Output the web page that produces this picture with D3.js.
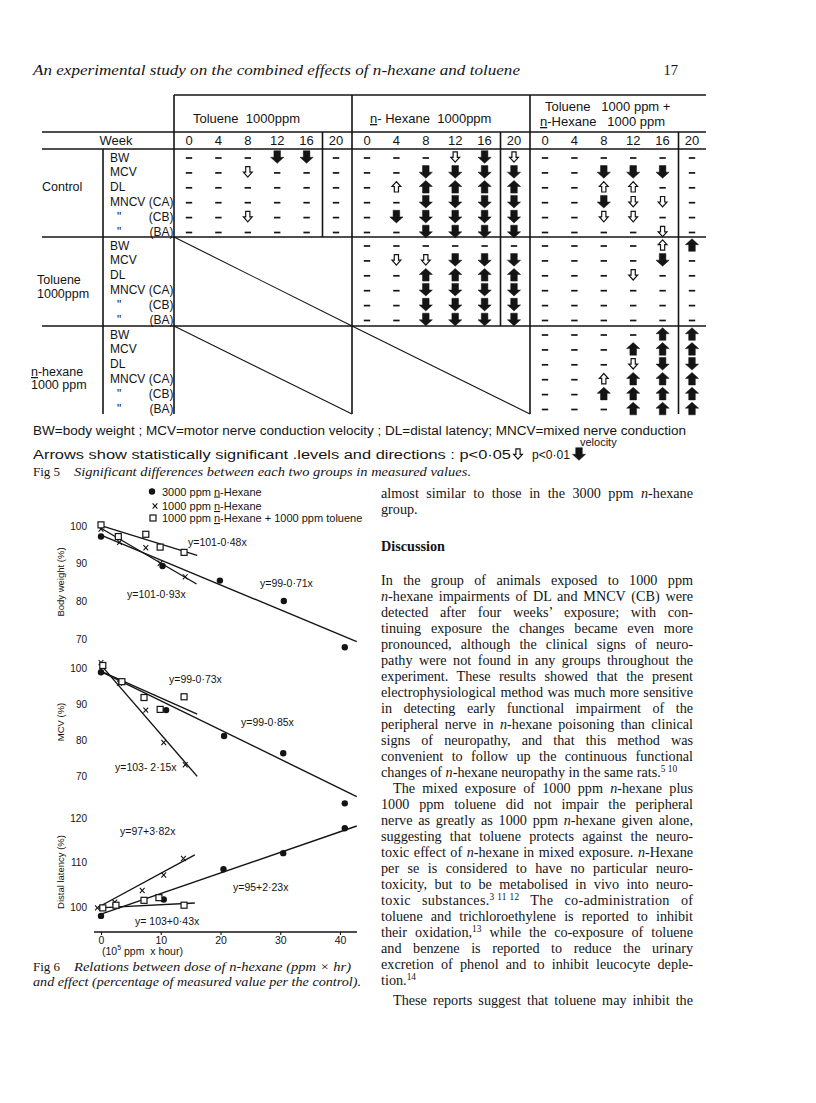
<!DOCTYPE html>
<html><head><meta charset="utf-8">
<script src="https://cdn.jsdelivr.net/npm/d3@7"></script>
<style>body{margin:0;background:#fff}</style>
</head><body>
<svg id="page" width="816" height="1103"></svg>
<script>
// ---------------- DATA ----------------
const pageHeader = "An experimental study on the combined effects of n-hexane and toluene";
const pageNumber = "17";

// Fig 5 table
const weeks = [0, 4, 8, 12, 16, 20];
const exposureGroupsLine1 = ["Toluene  1000ppm", "~n~- Hexane  1000ppm", "Toluene   1000 ppm +"];
const exposureGroupsLine2 = ["", "", "~n~-Hexane   1000 ppm"];
const comparedGroupsLine1 = ["Control", "Toluene", "~n~-hexane"];
const comparedGroupsLine2 = ["", "1000ppm", "1000 ppm"];
const measures = ["BW", "MCV", "DL", "MNCV (CA)", "\" (CB)", "\" (BA)"];
// codes: "-" not significant, "d" p<0.05 decrease, "D" p<0.01 decrease, "u" p<0.05 increase, "U" p<0.01 increase
const sigControlVsToluene = ["---DD-", "--d---", "------", "------", "--d---", "------"];
const sigControlVsHexane  = ["---dDd", "--DDDD", "-uUUUU", "--DDDD", "-DDDDD", "--DDDD"];
const sigControlVsMixed   = ["------", "--DDD-", "--uu--", "--Ddd-", "--dd--", "----d-"];
const sigTolueneVsHexane  = ["------", "-ddDDD", "--UUUU", "--DDDD", "--DDDD", "--DDDD"];
const sigTolueneVsMixed   = ["----uU", "----D-", "---d--", "------", "------", "------"];
const sigHexaneVsMixed    = ["----UU", "---UUU", "---dDD", "--uUUU", "--UUUU", "---UUU"];

// Fig 6 chart
const doseTicks = [0, 10, 20, 30, 40];
const bwTicks = [70, 80, 90, 100];
const mcvTicks = [70, 80, 90, 100];
const dlTicks = [100, 110, 120];
const legendLabels = ["3000 ppm ~n~-Hexane", "1000 ppm ~n~-Hexane", "1000 ppm ~n~-Hexane + 1000 ppm toluene"];

// Body weight (%)
const bwDose3000 = [0, 10.3, 19.9, 30.6, 40.8];
const bwVal3000  = [97.2, 89.4, 85.5, 80.1, 67.8];
const bwDose1000 = [0, 3.1, 7.5, 9.9, 14.1];
const bwVal1000  = [99.2, 95.7, 94.2, 90.1, 86.5];
const bwDoseMix  = [0, 2.9, 7.5, 9.9, 13.9];
const bwValMix   = [100.3, 97.2, 97.8, 94.4, 93.0];
const bwFit3000 = [0, 97.6, 42.8, 69.3];
const bwFit1000 = [0, 99.4, 16.0, 84.6];
const bwFitMix  = [0, 100.1, 16.1, 92.2];
const bwEquations = ["y=101-0·48x", "y=99-0·71x", "y=101-0·93x"];

// MCV (%)
const mcvDose3000 = [0, 10.9, 20.6, 30.5, 40.8];
const mcvVal3000  = [98.8, 88.3, 81.1, 76.3, 62.4];
const mcvDose1000 = [0, 3.1, 7.5, 10.5, 14.1];
const mcvVal1000  = [101.5, 95.8, 88.3, 79.3, 73.1];
const mcvDoseMix  = [0.3, 3.5, 7.2, 9.9, 13.9];
const mcvValMix   = [100.7, 96.2, 91.8, 88.5, 92.0];
const mcvFit3000 = [0, 99.0, 42.8, 64.3];
const mcvFit1000 = [0, 100.8, 16.1, 69.9];
const mcvFitMix  = [0.5, 98.7, 16.1, 87.2];
const mcvEquations = ["y=99-0·73x", "y=99-0·85x", "y=103- 2·15x"];

// Distal latency (%)
const dlDose3000 = [0, 10.5, 20.5, 30.5, 40.8];
const dlVal3000  = [98.0, 101.7, 108.5, 112.1, 117.7];
const dlDose1000 = [-0.6, 2.3, 6.9, 10.5, 13.8];
const dlVal1000  = [99.8, 101.1, 103.7, 107.2, 110.9];
const dlDoseMix  = [0.3, 2.5, 7.2, 9.7, 13.9];
const dlValMix   = [99.8, 100.4, 101.5, 102.1, 100.4];
const dlFit3000 = [0, 98.4, 42.8, 118.2];
const dlFit1000 = [-0.4, 100.0, 15.7, 111.7];
const dlFitMix  = [-0.4, 99.8, 15.7, 100.9];
const dlEquations = ["y=97+3·82x", "y=95+2·23x", "y= 103+0·43x"];

// Text
const fig5Legend1 = "BW=body weight ; MCV=motor nerve conduction velocity ; DL=distal latency; MNCV=mixed nerve conduction";
const fig5Legend2 = "velocity";
const fig5Legend3 = "Arrows show statistically significant .levels and directions : p<0·05";
const fig5Legend4 = "p<0·01";
const fig5Caption = "Significant differences between each two groups in measured values.";
const fig6Caption1 = "Relations between dose of n-hexane (ppm × hr)";
const fig6Caption2 = "and effect (percentage of measured value per the control).";
const bodyLines = [
  ["almost similar to those in the 3000 ppm _n_-hexane", 1, 0],
  ["group.", 0, 0],
  ["**Discussion", 0, 0],
  ["In the group of animals exposed to 1000 ppm", 1, 0],
  ["_n_-hexane impairments of DL and MNCV (CB) were", 1, 0],
  ["detected after four weeks’ exposure; with con-", 1, 0],
  ["tinuing exposure the changes became even more", 1, 0],
  ["pronounced, although the clinical signs of neuro-", 1, 0],
  ["pathy were not found in any groups throughout the", 1, 0],
  ["experiment. These results showed that the present", 1, 0],
  ["electrophysiological method was much more sensitive", 1, 0],
  ["in detecting early functional impairment of the", 1, 0],
  ["peripheral nerve in _n_-hexane poisoning than clinical", 1, 0],
  ["signs of neuropathy, and that this method was", 1, 0],
  ["convenient to follow up the continuous functional", 1, 0],
  ["changes of _n_-hexane neuropathy in the same rats.^5 10^", 0, 0],
  ["The mixed exposure of 1000 ppm _n_-hexane plus", 1, 1],
  ["1000 ppm toluene did not impair the peripheral", 1, 0],
  ["nerve as greatly as 1000 ppm _n_-hexane given alone,", 1, 0],
  ["suggesting that toluene protects against the neuro-", 1, 0],
  ["toxic effect of _n_-hexane in mixed exposure. _n_-Hexane", 1, 0],
  ["per se is considered to have no particular neuro-", 1, 0],
  ["toxicity, but to be metabolised in vivo into neuro-", 1, 0],
  ["toxic substances.^3 11 12^ The co-administration of", 1, 0],
  ["toluene and trichloroethylene is reported to inhibit", 1, 0],
  ["their oxidation,^13^ while the co-exposure of toluene", 1, 0],
  ["and benzene is reported to reduce the urinary", 1, 0],
  ["excretion of phenol and to inhibit leucocyte deple-", 1, 0],
  ["tion.^14^", 0, 0],
  ["These reports suggest that toluene may inhibit the", 1, 1]
];

// ---------------- DRAWING ----------------
const INK = "#141414";
const SANS = "'Liberation Sans', Arial, sans-serif";
const SERIF = "'Liberation Serif', 'Times New Roman', serif";
const svg = d3.select("#page");
svg.append("rect").attr("width", 816).attr("height", 1103).attr("fill", "#fff");

// rich text: ^sup^, _italic_, ~underline~, leading ** bold
function rich(sel, str, size) {
  let shifted = 0;
  if (str.startsWith("**")) { sel.attr("font-weight", "bold"); str = str.slice(2); }
  str.split(/(\^[^^]*\^|_[^_]*_|~[^~]*~)/).filter(s => s.length).forEach(p => {
    const t = sel.append("tspan");
    if (p[0] === "^") {
      t.attr("dy", -5).attr("font-size", size * 0.66).attr("word-spacing", 0).text(p.slice(1, -1)); shifted = 5; return;
    }
    if (p[0] === "_") { t.attr("font-style", "italic").text(p.slice(1, -1)); }
    else if (p[0] === "~") { t.style("text-decoration", "underline").text(p.slice(1, -1)); }
    else t.text(p);
    if (shifted) { t.attr("dy", shifted); shifted = 0; }
  });
  return sel;
}
function txt(g, x, y, str, size, family, opts = {}) {
  const t = g.append("text").attr("x", x).attr("y", y).attr("font-size", size)
    .attr("font-family", family).attr("fill", INK);
  if (opts.anchor) t.attr("text-anchor", opts.anchor);
  if (opts.italic) t.attr("font-style", "italic");
  if (opts.len) t.attr("textLength", opts.len).attr("lengthAdjust", opts.adjust || "spacingAndGlyphs");
  rich(t, str, size);
  return t;
}

// Header
txt(svg, 33, 75, pageHeader, 14.5, SERIF, {italic: true, len: 487});
txt(svg, 678, 75, pageNumber, 14.5, SERIF, {anchor: "end"});

// ---------- Fig 5 table ----------
const T = svg.append("g");
const groupLeft = [174, 352, 530];
const blockTop = [149, 237, 326];
const tableBottom = 414;
const colX = d3.scalePoint().domain(weeks).range([15, 162]);
const rowY = d3.scalePoint().domain(d3.range(measures.length)).range([8, 82.5]);
const sigMatrix = [
  [sigControlVsToluene, sigControlVsHexane, sigControlVsMixed],
  [null, sigTolueneVsHexane, sigTolueneVsMixed],
  [null, null, sigHexaneVsMixed]
];
function ln(g, x1, y1, x2, y2, w = 1.6) {
  g.append("line").attr("x1", x1).attr("y1", y1).attr("x2", x2).attr("y2", y2)
    .attr("stroke", INK).attr("stroke-width", w);
}
ln(T, 174, 95, 706, 95);
[132, 149, 237, 326].forEach(y => ln(T, 42, y, 706, y));
groupLeft.forEach(x => ln(T, x, 95, x, tableBottom));
ln(T, 103, 149, 103, tableBottom);
const week20End = [237, 326, tableBottom];
groupLeft.forEach((x, g) => ln(T, x + 148.5, 132, x + 148.5, week20End[g]));
// diagonals for non-compared cells
sigMatrix.forEach((row, b) => row.forEach((cell, g) => {
  if (!cell) ln(T, groupLeft[g], blockTop[b], groupLeft[g] + 178, blockTop[b] + (b === 2 ? 88 : 89), 1.1);
}));

// group headings
const headOffset1 = [19, 18, 15], headOffset2 = [0, 0, 10];
exposureGroupsLine1.forEach((s, g) => {
  const y = exposureGroupsLine2[g] ? 111 : 123;
  txt(T, groupLeft[g] + headOffset1[g], y, s, 13, SANS).attr("xml:space", "preserve");
  if (exposureGroupsLine2[g]) txt(T, groupLeft[g] + headOffset2[g], 126, exposureGroupsLine2[g], 13, SANS).attr("xml:space", "preserve");
});
txt(T, 116, 145, "Week", 13, SANS, {anchor: "middle"});
groupLeft.forEach(gx => weeks.forEach(w => txt(T, gx + colX(w), 145, String(w), 13, SANS, {anchor: "middle"})));

// compared group labels
const cgX = [42, 37, 31], cgY1 = [191, 284, 376], cgY2 = [0, 298, 389];
comparedGroupsLine1.forEach((s, b) => {
  txt(T, cgX[b], cgY1[b], s, 12.5, SANS);
  if (comparedGroupsLine2[b]) txt(T, cgX[b], cgY2[b], comparedGroupsLine2[b], 12.5, SANS);
});
// measure labels
blockTop.forEach(top => measures.forEach((m, i) => {
  const parts = m.split(" ");
  const y = top + rowY(i) + 4.5;
  txt(T, parts[0] === "\"" ? 117 : 110, y, parts[0], 12, SANS);
  if (parts[1]) txt(T, 173.5, y, parts[1], 12, SANS, {anchor: "end"});
}));

// symbols
function arrowPath(cx, cy, dir, big) {
  const h = big ? 6.3 : 5.2, hw = big ? 6.6 : 4.4, sw = big ? 3.3 : 2.1;
  const s = dir;
  return `M${cx - sw},${cy - s * h} L${cx + sw},${cy - s * h} L${cx + sw},${cy + s * 0.3} L${cx + hw},${cy + s * 0.3} L${cx},${cy + s * h} L${cx - hw},${cy + s * 0.3} L${cx - sw},${cy + s * 0.3} Z`;
}
function symbol(g, code, cx, cy) {
  if (code === "-") {
    ln(g, cx - 3.2, cy + 1, cx + 3.2, cy + 1, 1.7);
  } else {
    const big = code === "D" || code === "U";
    const dir = (code === "D" || code === "d") ? 1 : -1;
    g.append("path").attr("d", arrowPath(cx, cy, dir, big))
      .attr("fill", big ? INK : "#fff").attr("stroke", INK)
      .attr("stroke-width", big ? 0.5 : 1.2).attr("stroke-linejoin", "miter");
  }
}
sigMatrix.forEach((row, b) => row.forEach((cell, g) => {
  if (!cell) return;
  cell.forEach((codes, r) => codes.split("").forEach((code, c) => {
    symbol(T, code, groupLeft[g] + colX(weeks[c]), blockTop[b] + rowY(r));
  }));
}));

// table legend
txt(svg, 33, 435, fig5Legend1, 12, SANS, {len: 653});
txt(svg, 580, 446, fig5Legend2, 11, SANS);
txt(svg, 33, 459, fig5Legend3, 12, SANS, {len: 478});
symbol(svg, "d", 518, 454);
txt(svg, 532, 459, fig5Legend4, 12, SANS, {len: 38});
symbol(svg, "D", 579, 454);
txt(svg, 33, 476, "Fig 5", 13, SERIF);
txt(svg, 74, 476, fig5Caption, 13, SERIF, {italic: true, len: 397});

// ---------- Fig 6 chart ----------
const C = svg.append("g");
const x = d3.scaleLinear().domain([0, 40]).range([101, 340]);
const panels = [
  {y: d3.scaleLinear().domain([70, 100]).range([639, 526]), ticks: bwTicks, title: "Body weight (%)", titleY: 582,
   pts: [[bwDose3000, bwVal3000], [bwDose1000, bwVal1000], [bwDoseMix, bwValMix]],
   fits: [bwFit3000, bwFit1000, bwFitMix], eq: bwEquations,
   eqPos: [[188, 545.5], [260, 586.5], [127, 598]]},
  {y: d3.scaleLinear().domain([70, 100]).range([776, 668]), ticks: mcvTicks, title: "MCV (%)", titleY: 722,
   pts: [[mcvDose3000, mcvVal3000], [mcvDose1000, mcvVal1000], [mcvDoseMix, mcvValMix]],
   fits: [mcvFit3000, mcvFit1000, mcvFitMix], eq: mcvEquations,
   eqPos: [[169, 683], [241, 725.5], [115, 770.5]]},
  {y: d3.scaleLinear().domain([100, 120]).range([907, 818]), ticks: dlTicks, title: "Distal latency (%)", titleY: 872,
   pts: [[dlDose3000, dlVal3000], [dlDose1000, dlVal1000], [dlDoseMix, dlValMix]],
   fits: [dlFit3000, dlFit1000, dlFitMix], eq: dlEquations,
   eqPos: [[120, 835], [233, 890.5], [135, 925]]}
];

function marker(g, kind, cx, cy) {
  if (kind === 0) g.append("circle").attr("cx", cx).attr("cy", cy).attr("r", 3.2).attr("fill", INK);
  else if (kind === 1) {
    ln(g, cx - 2.4, cy - 2.6, cx + 2.4, cy + 2.6, 1.1);
    ln(g, cx + 2.4, cy - 2.6, cx - 2.4, cy + 2.6, 1.1);
  } else {
    g.append("rect").attr("x", cx - 3).attr("y", cy - 3).attr("width", 6).attr("height", 6)
      .attr("fill", "#fff").attr("stroke", INK).attr("stroke-width", 1.2);
  }
}

panels.forEach(p => {
  p.fits.forEach(f => ln(C, x(f[0]), p.y(f[1]), x(f[2]), p.y(f[3]), 1.4));
  p.pts.forEach((s, k) => s[0].forEach((d, i) => marker(C, k, x(d), p.y(s[1][i]))));
  p.ticks.forEach(t => {
    txt(C, 87, p.y(t) + 3.5, String(t), 10, SANS, {anchor: "end"});
  });
  C.append("text").attr("transform", `translate(64,${p.titleY}) rotate(-90)`)
    .attr("text-anchor", "middle").attr("font-size", 9.5).attr("font-family", SANS)
    .attr("fill", INK).text(p.title);
  p.eq.forEach((e, i) => txt(C, p.eqPos[i][0], p.eqPos[i][1], e, 10.5, SANS).attr("xml:space", "preserve"));
});

// x axis
const xAxisY = 932;
ln(C, 94, xAxisY, 357, xAxisY, 1.5);
const ax = C.append("g").attr("transform", `translate(0,${xAxisY})`)
  .call(d3.axisBottom(x).tickValues(doseTicks).tickSize(3).tickPadding(2).tickFormat(d3.format("d")));
ax.select(".domain").remove();
ax.selectAll("line").attr("stroke", INK).attr("stroke-width", 1.1);
ax.selectAll("text").attr("font-family", SANS).attr("font-size", 10.5).attr("fill", INK);
const unit = C.append("text").attr("x", 102).attr("y", 955).attr("font-size", 10.5)
  .attr("font-family", SANS).attr("fill", INK).attr("xml:space", "preserve");
rich(unit, "(10^5^ ppm  x hour)", 10.5);

// legend
const legY = [495.5, 510, 522];
const legMarkerX = [152, 155, 153];
legendLabels.forEach((s, k) => {
  marker(C, k, legMarkerX[k], legY[k] - 4);
  txt(C, 162, legY[k], s, 11, SANS);
});

// Fig 6 caption
txt(svg, 33, 971, "Fig 6", 13, SERIF);
txt(svg, 74, 971, fig6Caption1, 13, SERIF, {italic: true, len: 277});
txt(svg, 33, 986, fig6Caption2, 13, SERIF, {italic: true, len: 328});

// ---------- body text column (justified via word spacing) ----------
const B = svg.append("g");
const lineY = [497.5, 513.5, 550.5];
for (let i = 3; i < bodyLines.length; i++) lineY.push(584.5 + (i - 3) * 16);
lineY[lineY.length - 1] = 1005;
bodyLines.forEach((L, i) => {
  const [s, justify, indent] = L;
  const x0 = 381 + (indent ? 12 : 0);
  const t = txt(B, x0, lineY[i], s, 14.2, SERIF);
  if (justify) {
    const target = 693 - x0;
    const natural = t.node().getComputedTextLength();
    const spaces = (t.text().match(/ /g) || []).length;
    if (spaces > 0 && natural < target) {
      t.attr("word-spacing", ((target - natural) / spaces).toFixed(2));
      const after = t.node().getComputedTextLength();
      if (Math.abs(after - target) > 2) t.attr("textLength", target).attr("lengthAdjust", "spacing");
    } else if (natural > target) {
      t.attr("textLength", target).attr("lengthAdjust", "spacingAndGlyphs");
    }
  }
});
</script>
</body></html>
